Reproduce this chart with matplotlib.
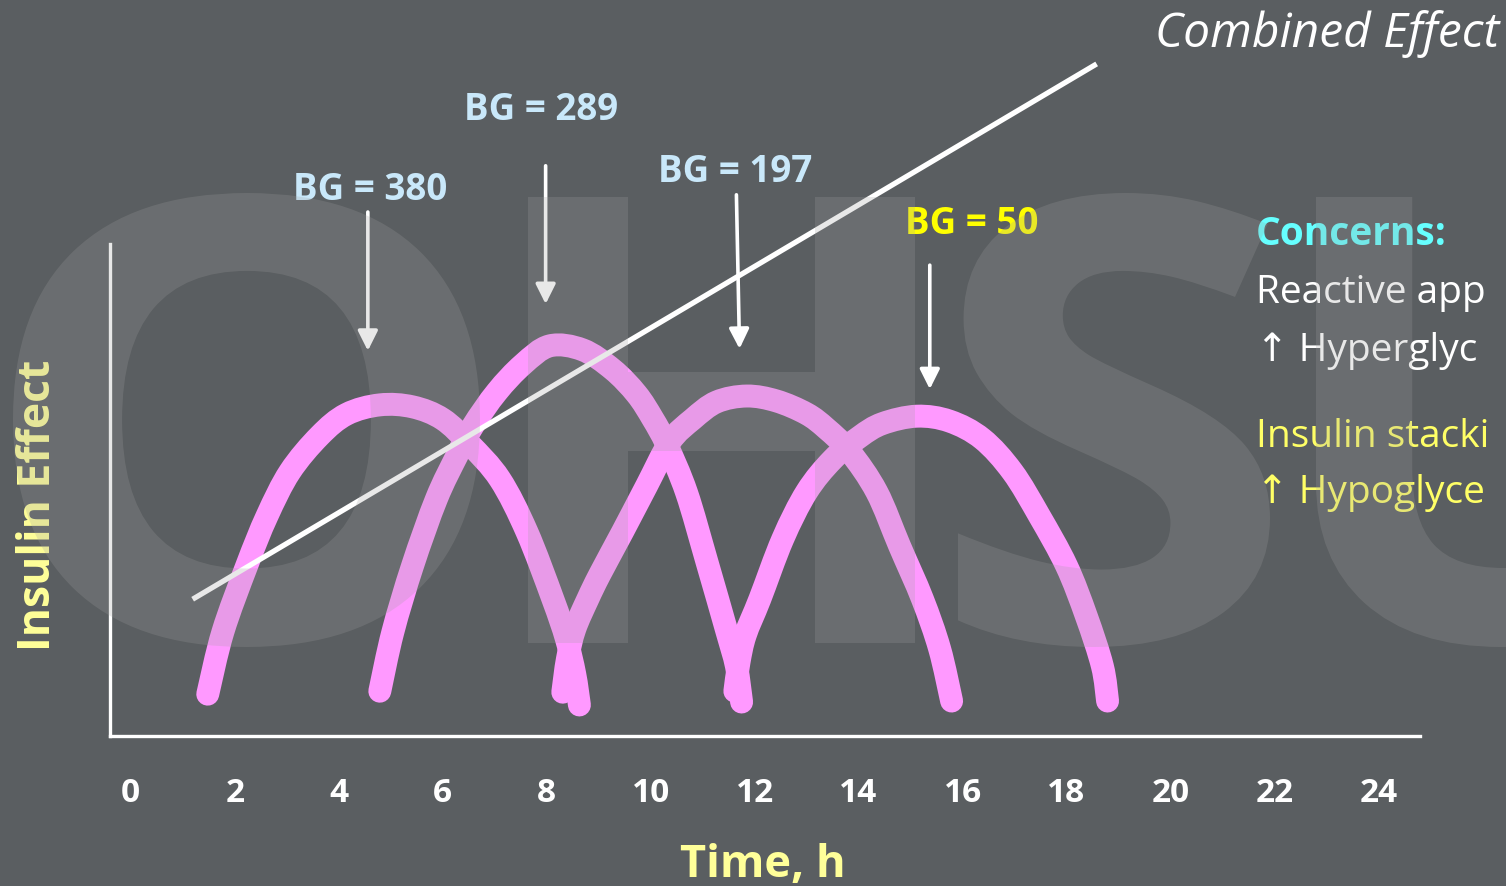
import matplotlib
matplotlib.use("Agg")
import matplotlib.pyplot as plt
import numpy as np
from matplotlib.font_manager import FontProperties
from matplotlib.patches import PathPatch
from matplotlib.path import Path
from matplotlib.textpath import TextPath
from matplotlib.transforms import Affine2D

# insulin effect of four correction doses (hours, arbitrary effect units)
dose1_t = [1.48, 1.77, 2.23, 2.62, 3.06, 3.63, 4.15, 4.79, 5.42, 6.00, 6.52, 7.10, 7.62, 8.12, 8.38, 8.54, 8.63]
dose1_v = [0.85, 2.11, 3.46, 4.47, 5.37, 6.10, 6.54, 6.73, 6.69, 6.44, 5.93, 5.22, 4.15, 2.78, 1.97, 1.26, 0.63]
dose2_t = [4.79, 5.04, 5.42, 5.88, 6.27, 6.58, 7.04, 7.54, 8.06, 8.69, 9.27, 9.73, 10.04, 10.31, 10.69, 11.08, 11.46, 11.65, 11.75]
dose2_v = [0.91, 2.11, 3.46, 4.82, 5.69, 6.30, 6.99, 7.55, 7.93, 7.85, 7.45, 6.95, 6.45, 5.92, 4.95, 3.55, 2.15, 1.42, 0.69]
dose3_t = [8.31, 8.40, 8.54, 8.79, 9.02, 9.46, 9.92, 10.37, 10.81, 11.27, 11.85, 12.42, 13.00, 13.38, 13.83, 14.35, 14.79, 15.23, 15.56, 15.79]
dose3_v = [0.89, 1.57, 2.17, 2.78, 3.28, 4.15, 5.08, 5.98, 6.44, 6.79, 6.91, 6.81, 6.55, 6.25, 5.78, 4.96, 3.86, 2.78, 1.77, 0.71]
dose4_t = [11.62, 11.70, 11.82, 12.10, 12.54, 13.00, 13.50, 14.02, 14.46, 15.12, 15.75, 16.38, 16.96, 17.48, 18.00, 18.38, 18.69, 18.79]
dose4_v = [0.91, 1.50, 2.05, 2.78, 4.00, 4.96, 5.62, 6.08, 6.35, 6.50, 6.40, 6.04, 5.37, 4.47, 3.46, 2.44, 1.42, 0.71]

# combined effect trend line
combined_t = [1.19, 18.58]
combined_v = [2.78, 13.66]

# blood glucose readings: label, hour, arrow top, arrow tip
bg_labels = ["BG = 380", "BG = 289", "BG = 197", "BG = 50"]
bg_hours = [4.56, 7.98, 11.65, 15.37]
bg_tip_hours = [4.56, 7.98, 11.71, 15.37]
bg_arrow_top = [10.65, 11.59, 11.0, 9.57]
bg_arrow_tip = [7.83, 8.78, 7.87, 7.05]

hour_ticks = list(range(0, 25, 2))

BG = "#5a5e61"
PINK = "#ff99ff"
plt.rcParams["font.family"] = ["Open Sans", "DejaVu Sans"]


def smooth_path(xs, ys):
    """Catmull-Rom curve through the points, as cubic Bezier segments."""
    p = np.column_stack([xs, ys]).astype(float)
    ext = np.vstack([p[0], p, p[-1]])
    verts = [p[0]]
    codes = [Path.MOVETO]
    for i in range(1, len(ext) - 2):
        p0, p1, p2, p3 = ext[i - 1], ext[i], ext[i + 1], ext[i + 2]
        verts += [p1 + (p2 - p0) / 6, p2 - (p3 - p1) / 6, p2]
        codes += [Path.CURVE4] * 3
    return Path(verts, codes)


fig = plt.figure(figsize=(15.06, 8.87), dpi=100, facecolor=BG)
W, H = 1506, 887

ax = fig.add_axes([110 / W, 150 / H, 1310 / W, 492 / H])
ax.patch.set_alpha(0)
ax.set_xlim(-0.4, 24.8)
ax.set_ylim(0, 10)
for side in ("top", "right"):
    ax.spines[side].set_visible(False)
for side in ("left", "bottom"):
    ax.spines[side].set_color("white")
    ax.spines[side].set_linewidth(2.4)
ax.set_yticks([])
ax.set_xticks(hour_ticks)
ax.set_xticklabels([str(h) for h in hour_ticks], fontweight="bold")
ax.tick_params(axis="x", length=0, pad=29, labelsize=24, labelcolor="white")

for t, v in [(dose1_t, dose1_v), (dose2_t, dose2_v), (dose3_t, dose3_v), (dose4_t, dose4_v)]:
    ax.add_patch(PathPatch(smooth_path(t, v), fill=False, edgecolor=PINK, lw=16.5,
                           capstyle="round", joinstyle="round", clip_on=False, zorder=3))

ax.plot(combined_t, combined_v, color="white", lw=3.8, solid_capstyle="butt",
        clip_on=False, zorder=4)

for t0, t1, top, tip in zip(bg_hours, bg_tip_hours, bg_arrow_top, bg_arrow_tip):
    ax.annotate("", xy=(t1, tip), xytext=(t0, top), annotation_clip=False,
                arrowprops=dict(arrowstyle="-|>", color="white", lw=2.6,
                                mutation_scale=30, shrinkA=0, shrinkB=0))

ax.set_xlabel("Time, h", fontsize=32.5, fontweight="bold", color="#ffff99", va="baseline")
ax.xaxis.set_label_coords((763 - 110) / 1310, (737 - 877) / 492)
ax.set_ylabel("Insulin Effect", fontsize=32, fontweight="bold", color="#ffff99", va="baseline")
ax.yaxis.set_label_coords((50 - 110) / 1310, (737 - 505) / 492)

# pixel-space layer for the annotations and the watermark
ov = fig.add_axes([0, 0, 1, 1])
ov.set_xlim(0, W)
ov.set_ylim(H, 0)
ov.axis("off")
ov.patch.set_alpha(0)
ov.set_zorder(5)

label_x = [370, 541, 735, 972]
label_y = [200, 120, 182, 234]
label_colors = ["#c9e8fa", "#c9e8fa", "#c9e8fa", "#ffff00"]
for txt, x, y, c in zip(bg_labels, label_x, label_y, label_colors):
    ov.text(x, y, txt, ha="center", va="baseline", fontsize=26.5,
            fontweight="bold", color=c)

ov.text(1499, 47, "Combined Effect", ha="right", va="baseline", fontsize=34.5,
        fontstyle="italic", color="white")

# side panel, its lines run out at the right edge
ov.text(1256, 245, "Concerns:", va="baseline", fontsize=28, fontweight="bold", color="#66ffff")
ov.text(1256, 303, "Reactive app", va="baseline", fontsize=28, color="white")
ov.text(1256, 361, "\u2191 Hyperglyc", va="baseline", fontsize=28, color="white")
ov.text(1256, 447, "Insulin stacki", va="baseline", fontsize=28, color="#ffff66")
ov.text(1256, 503, "\u2191 Hypoglyce", va="baseline", fontsize=28, color="#ffff66")

# translucent OHSU watermark over everything
wm_font = FontProperties(family="Open Sans", weight="bold")
wm_boxes = {"O": (13, 194, 480, 648), "H": (528, 198, 915, 644),
            "S": (958, 194, 1270, 648), "U": (1316, 198, 1690, 648)}
for ch, (x0, y0, x1, y1) in wm_boxes.items():
    tp = TextPath((0, 0), ch, size=100, prop=wm_font)
    ext = tp.get_extents()
    tr = (Affine2D().translate(-ext.x0, -ext.y0)
          .scale((x1 - x0) / ext.width, -(y1 - y0) / ext.height)
          .translate(x0, y1))
    ov.add_patch(PathPatch(tr.transform_path(tp), fc="#a0a0a0", ec="none",
                           alpha=0.24, zorder=10))

fig.savefig("out.png", dpi=100, facecolor=BG)
